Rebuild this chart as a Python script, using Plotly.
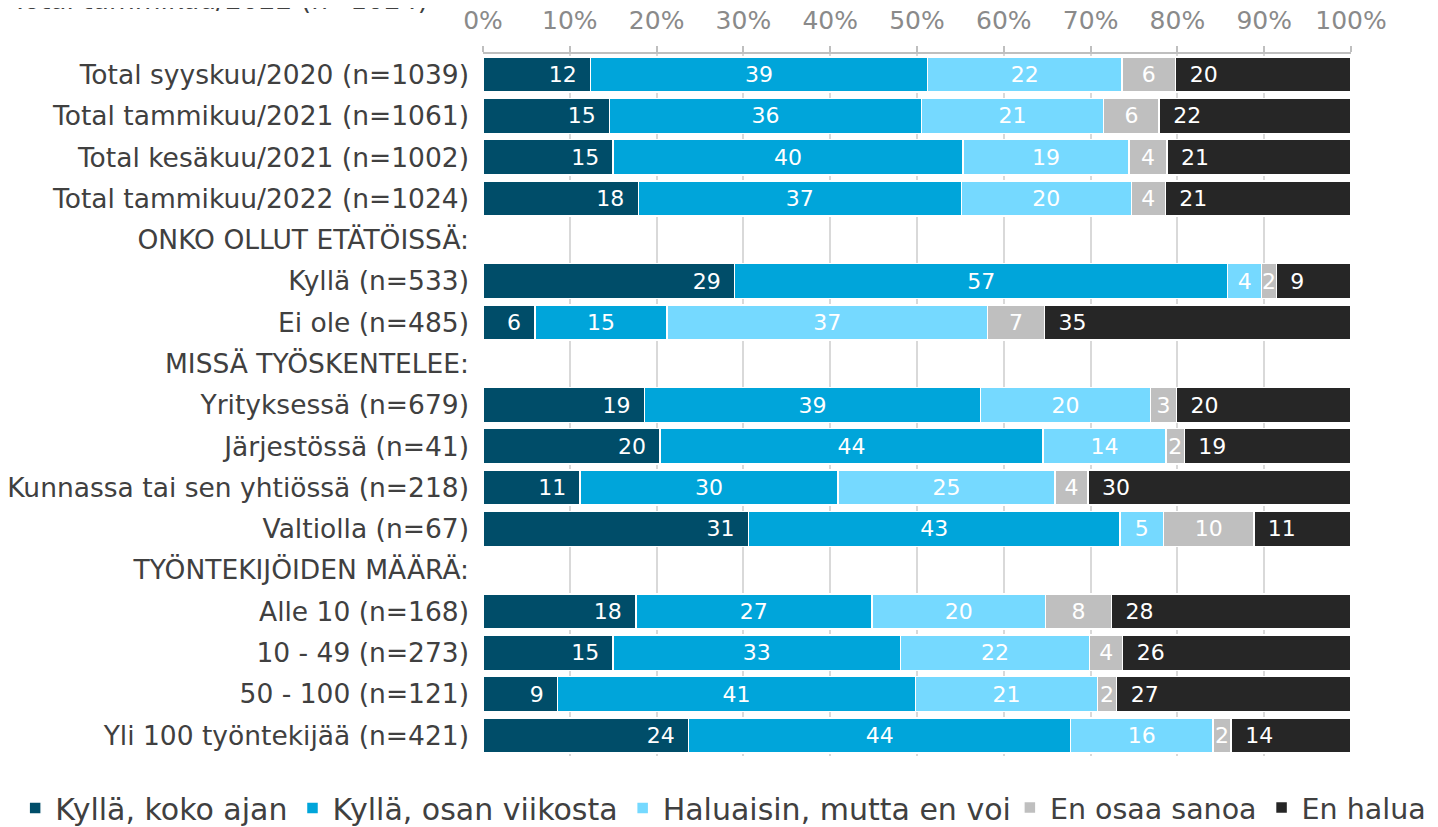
import plotly.graph_objects as go

categories = [
    "Total syyskuu/2020 (n=1039)",
    "Total tammikuu/2021 (n=1061)",
    "Total kesäkuu/2021 (n=1002)",
    "Total tammikuu/2022 (n=1024)",
    "ONKO OLLUT ETÄTÖISSÄ:",
    "Kyllä (n=533)",
    "Ei ole (n=485)",
    "MISSÄ TYÖSKENTELEE:",
    "Yrityksessä (n=679)",
    "Järjestössä (n=41)",
    "Kunnassa tai sen yhtiössä (n=218)",
    "Valtiolla (n=67)",
    "TYÖNTEKIJÖIDEN MÄÄRÄ:",
    "Alle 10 (n=168)",
    "10 - 49 (n=273)",
    "50 - 100 (n=121)",
    "Yli 100 työntekijää (n=421)",
]

series_names = ["Kyllä, koko ajan", "Kyllä, osan viikosta", "Haluaisin, mutta en voi",
                "En osaa sanoa", "En halua"]

N = None
kylla_koko = [12.4, 14.6, 15.0, 17.9, N, 29.0, 6.0, N, 18.6, 20.4, 11.2, 30.6, N, 17.6, 15.0, 8.6, 23.7]
kylla_osan = [38.8, 35.9, 40.3, 37.2, N, 56.8, 15.2, N, 38.7, 44.1, 29.7, 42.8, N, 27.2, 33.1, 41.2, 44.0]
haluaisin = [22.4, 21.0, 19.1, 19.6, N, 3.9, 36.9, N, 19.6, 14.2, 25.0, 5.0, N, 20.0, 21.8, 21.0, 16.4]
en_osaa = [6.2, 6.4, 4.4, 3.9, N, 1.7, 6.6, N, 3.0, 2.1, 3.8, 10.4, N, 7.6, 3.8, 2.2, 2.1]
en_halua = [20.2, 22.1, 21.2, 21.4, N, 8.6, 35.3, N, 20.1, 19.2, 30.3, 11.2, N, 27.6, 26.3, 27.0, 13.8]

labels_koko = ["12", "15", "15", "18", "", "29", "6", "", "19", "20", "11", "31", "", "18", "15", "9", "24"]
labels_osan = ["39", "36", "40", "37", "", "57", "15", "", "39", "44", "30", "43", "", "27", "33", "41", "44"]
labels_hal = ["22", "21", "19", "20", "", "4", "37", "", "20", "14", "25", "5", "", "20", "22", "21", "16"]
labels_eos = ["6", "6", "4", "4", "", "2", "7", "", "3", "2", "4", "10", "", "8", "4", "2", "2"]
labels_eh = ["20", "22", "21", "21", "", "9", "35", "", "20", "19", "30", "11", "", "28", "26", "27", "14"]

tick_vals = [0, 10, 20, 30, 40, 50, 60, 70, 80, 90, 100]
tick_text = ["0%", "10%", "20%", "30%", "40%", "50%", "60%", "70%", "80%", "90%", "100%"]

colors = ["#004d69", "#00a5da", "#75d9ff", "#bfbfbf", "#262626"]
values = [kylla_koko, kylla_osan, haluaisin, en_osaa, en_halua]
texts = [labels_koko, labels_osan, labels_hal, labels_eos, labels_eh]

FONT = "DejaVu Sans"
PAD = "\u2002"

fig = go.Figure()
for i, (name, vals, txt, col) in enumerate(zip(series_names, values, texts, colors)):
    if i == 0:
        anchor = "end"
        shown = [t + PAD if t else t for t in txt]
    elif i == 4:
        anchor = "start"
        shown = [PAD + t if t else t for t in txt]
    else:
        anchor = "middle"
        shown = txt
    fig.add_trace(go.Bar(
        y=categories, x=vals, name=name, orientation="h",
        marker=dict(color=col, line=dict(color="white", width=1.5)),
        text=shown, textposition="inside", insidetextanchor=anchor,
        textfont=dict(color="white", size=22, family=FONT),
        hoverinfo="x+name",
        legend="legend" if i < 3 else "legend2",
    ))

fig.add_annotation(
    text="Total tammikuu/2022 (n=1024)", xref="paper", yref="paper",
    x=-0.061, y=1.078, xanchor="right", yanchor="middle", showarrow=False,
    font=dict(size=26.5, color="#404040", family=FONT),
)

legend_style = dict(orientation="h", yanchor="middle", y=-0.074, xanchor="left",
                    traceorder="normal", itemwidth=30, bgcolor="rgba(0,0,0,0)")

fig.update_layout(
    barmode="stack",
    bargap=0.15,
    width=1438, height=827,
    margin=dict(l=475, r=95, t=46, b=79, autoexpand=False),
    plot_bgcolor="white", paper_bgcolor="white",
    font=dict(family=FONT, size=26, color="#404040"),
    uniformtext=dict(minsize=22, mode="show"),
    legend=dict(x=-0.539, font=dict(size=30, color="#404040", family=FONT), **legend_style),
    legend2=dict(x=0.607, font=dict(size=28.5, color="#404040", family=FONT), **legend_style),
    xaxis=dict(
        side="top", range=[0, 100], tickvals=tick_vals, ticktext=tick_text,
        showgrid=True, gridcolor="#d9d9d9", gridwidth=1.5,
        tickfont=dict(size=25, color="#8a8a8a", family=FONT),
        ticks="outside", ticklen=6, tickcolor="#bfbfbf", tickwidth=1.5,
        ticklabelstandoff=7, automargin=False,
        showline=True, linecolor="#bfbfbf", linewidth=1.5,
        zeroline=False, fixedrange=True,
    ),
    yaxis=dict(
        autorange="reversed", categoryorder="array", categoryarray=categories,
        tickfont=dict(size=26.5, color="#404040", family=FONT),
        ticks="", ticklabelstandoff=13, showgrid=False, fixedrange=True,
        automargin=False,
    ),
)

fig.write_html("out.html")
